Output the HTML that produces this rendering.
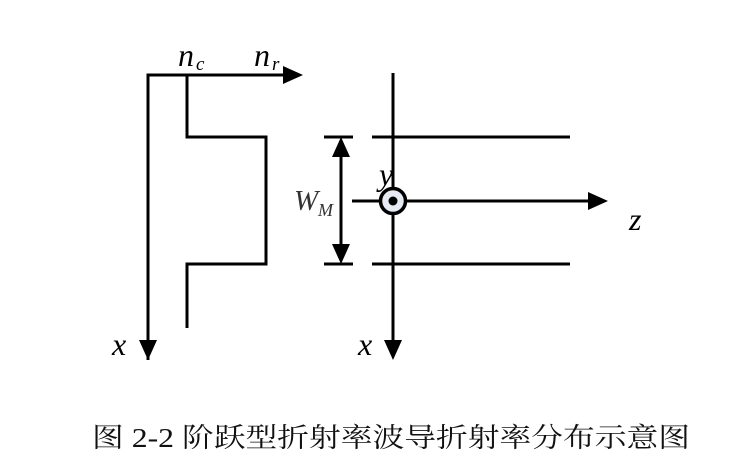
<!DOCTYPE html>
<html><head><meta charset="utf-8"><style>html,body{margin:0;padding:0;background:#fff;width:745px;height:469px;overflow:hidden}
.it{font-family:"Liberation Serif","DejaVu Serif",serif;font-style:italic}
.cap{font-family:"Liberation Serif","Noto Serif CJK SC",serif}</style></head>
<body>
<svg width="745" height="469" viewBox="0 0 745 469" xmlns="http://www.w3.org/2000/svg">
<g stroke="#000" stroke-width="3" fill="none" stroke-linecap="butt">
<polyline points="148,360 148,75 288,75"/>
<polyline points="187,75 187,137 266,137 266,264 187,264 187,328"/>
<line x1="393" y1="73" x2="393" y2="345"/>
<line x1="372" y1="137" x2="570" y2="137"/>
<line x1="372" y1="264" x2="570" y2="264"/>
<line x1="324" y1="137" x2="353" y2="137"/>
<line x1="324" y1="264" x2="353" y2="264"/>
<line x1="341" y1="150" x2="341" y2="251"/>
<line x1="352" y1="201" x2="595" y2="201"/>
</g>
<g fill="#000">
<polygon points="303,75 283,66 283,84"/>
<polygon points="148,360 139,340 157,340"/>
<polygon points="393,360 384,340 402,340"/>
<polygon points="608,201 588,192 588,210"/>
<polygon points="341,137 332,157 350,157"/>
<polygon points="341,264 332,244 350,244"/>
</g>
<circle cx="393" cy="201" r="12.5" fill="#e6eaf2" stroke="#000" stroke-width="3.5"/>
<circle cx="393" cy="201" r="4.5" fill="#000"/>
<g class="it" fill="#000">
<text x="178" y="66" font-size="32">n</text><text x="196" y="70" font-size="19">c</text>
<text x="254" y="66" font-size="32">n</text><text x="272" y="70" font-size="19">r</text>
<text x="379" y="185" font-size="32">y</text>
<text x="294" y="210" font-size="29" fill="#333">W</text><text x="318" y="216" font-size="18" fill="#333">M</text>
<text x="629" y="230" font-size="32">z</text>
<text x="112" y="355" font-size="32">x</text>
<text x="358" y="355" font-size="32">x</text>
</g>
<text class="cap" x="92" y="447" font-size="27" fill="#111" textLength="598" lengthAdjust="spacingAndGlyphs">图  2-2 阶跃型折射率波导折射率分布示意图</text>
</svg>
</body></html>
